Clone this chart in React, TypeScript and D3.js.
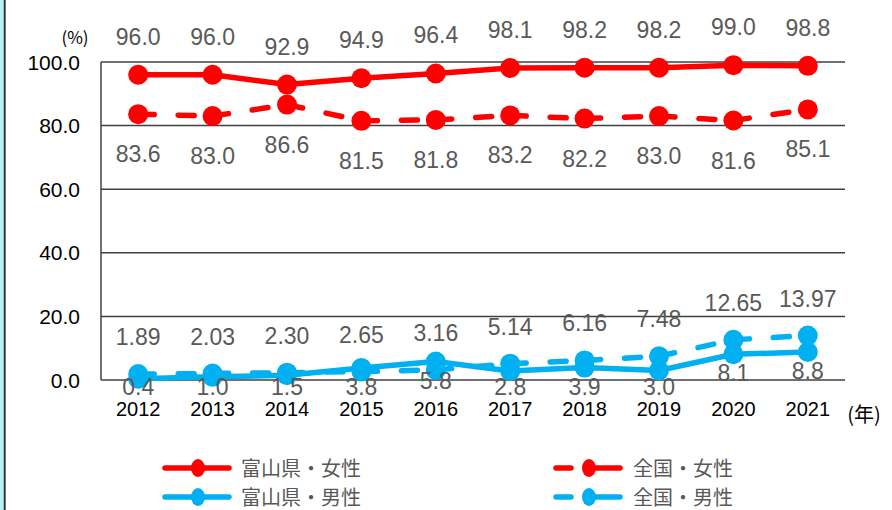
import React, { useRef, useEffect } from "react";
import * as d3 from "d3";

const years = ["2012", "2013", "2014", "2015", "2016", "2017", "2018", "2019", "2020", "2021"];
const toyamaFemale = [96.0, 96.0, 92.9, 94.9, 96.4, 98.1, 98.2, 98.2, 99.0, 98.8];
const nationFemale = [83.6, 83.0, 86.6, 81.5, 81.8, 83.2, 82.2, 83.0, 81.6, 85.1];
const toyamaMale = [0.4, 1.0, 1.5, 3.8, 5.8, 2.8, 3.9, 3.0, 8.1, 8.8];
const nationMale = [1.89, 2.03, 2.3, 2.65, 3.16, 5.14, 6.16, 7.48, 12.65, 13.97];
const yTicks = [0, 20, 40, 60, 80, 100];

const seriesNames = ["富山県・女性", "全国・女性", "富山県・男性", "全国・男性"];

const RED = "#ff0000";
const CYAN = "#00b0f0";
const FONT = "'Liberation Sans', Arial, 'Noto Sans CJK JP', sans-serif";
const JP_FONT = "'Noto Sans CJK JP', 'Liberation Sans', sans-serif";

const App = () => {
  const svgRef = useRef<SVGSVGElement>(null);

  useEffect(() => {
    const svg = d3.select(svgRef.current);
    svg.selectAll("*").remove();

    const left = 101;
    const right = 845;
    const top = 62;
    const bottom = 380;

    const x = d3.scalePoint().domain(years).range([left, right]).padding(0.5);
    const y = d3.scaleLinear().domain([0, 100]).range([bottom, top]);

    // frame border on the left
    svg.append("rect").attr("x", 0).attr("y", 0).attr("width", 3.7).attr("height", 510).attr("fill", "#b2f3f6");
    svg.append("line").attr("x1", 4.7).attr("x2", 4.7).attr("y1", 0).attr("y2", 510)
      .attr("stroke", "#333").attr("stroke-width", 2);

    // gridlines
    svg.append("g")
      .selectAll("line")
      .data(yTicks)
      .enter()
      .append("line")
      .attr("x1", left)
      .attr("x2", right)
      .attr("y1", (d) => y(d))
      .attr("y2", (d) => y(d))
      .attr("stroke", "#404040")
      .attr("stroke-width", 1.5);

    svg.append("line").attr("x1", left).attr("x2", left).attr("y1", top).attr("y2", bottom)
      .attr("stroke", "#404040").attr("stroke-width", 1.5);

    // y tick labels
    svg.append("g")
      .selectAll("text")
      .data(yTicks)
      .enter()
      .append("text")
      .attr("x", 80)
      .attr("y", (d) => y(d) + 7.5)
      .attr("text-anchor", "end")
      .style("font-family", FONT)
      .style("font-size", "21px")
      .attr("fill", "#000")
      .text((d) => d.toFixed(1));

    // x tick labels
    svg.append("g")
      .selectAll("text")
      .data(years)
      .enter()
      .append("text")
      .attr("x", (d) => x(d))
      .attr("y", 416)
      .attr("text-anchor", "middle")
      .style("font-family", FONT)
      .style("font-size", "20px")
      .attr("fill", "#000")
      .text((d) => d);

    svg.append("text").attr("x", 75).attr("y", 44).attr("text-anchor", "middle")
      .style("font-family", JP_FONT).style("font-size", "17px").attr("fill", "#000").text("(%)");
    svg.append("text").attr("x", 864).attr("y", 422).attr("text-anchor", "middle")
      .style("font-family", JP_FONT).style("font-size", "20px").attr("fill", "#000").text("(年)");

    const series = [
      { values: toyamaFemale, color: RED, dashed: false, labelY: (v) => y(v) - 30, fmt: 1 },
      { values: nationFemale, color: RED, dashed: true, labelY: (v) => y(v) + 48, fmt: 1 },
      { values: toyamaMale, color: CYAN, dashed: false, labelY: (v) => Math.min(y(v) + 27, 395), fmt: 1 },
      { values: nationMale, color: CYAN, dashed: true, labelY: (v) => y(v) - 29, fmt: 2 },
    ];

    // male series first so the female lines sit on top
    const order = [3, 2, 1, 0];
    order.forEach((i) => {
      const s = series[i];
      const pts = s.values.map((v, j) => [x(years[j]) as number, y(v)] as [number, number]);
      const g = svg.append("g");
      if (s.dashed) {
        // dash pattern restarts on every segment
        d3.pairs(pts).forEach(([a, b]) => {
          g.append("line")
            .attr("x1", a[0]).attr("y1", a[1]).attr("x2", b[0]).attr("y2", b[1])
            .attr("stroke", s.color)
            .attr("stroke-width", 5.5)
            .attr("stroke-linecap", "round")
            .attr("stroke-dasharray", "16 24");
        });
      } else {
        g.append("path")
          .attr("d", d3.line()(pts))
          .attr("fill", "none")
          .attr("stroke", s.color)
          .attr("stroke-width", 5.5)
          .attr("stroke-linejoin", "round")
          .attr("stroke-linecap", "round");
      }
      g.selectAll("circle")
        .data(pts)
        .enter()
        .append("circle")
        .attr("cx", (d) => d[0])
        .attr("cy", (d) => d[1])
        .attr("r", 10)
        .attr("fill", s.color);
    });

    // data labels
    series.forEach((s) => {
      svg.append("g")
        .selectAll("text")
        .data(s.values)
        .enter()
        .append("text")
        .attr("x", (d, j) => x(years[j]))
        .attr("y", (d) => s.labelY(d))
        .attr("text-anchor", "middle")
        .style("font-family", FONT)
        .style("font-size", "23px")
        .attr("fill", "#595959")
        .text((d) => d.toFixed(s.fmt));
    });

    // legend
    const legendItems = [
      { name: seriesNames[0], color: RED, dashed: false, lx: 162, ly: 468 },
      { name: seriesNames[1], color: RED, dashed: true, lx: 553, ly: 468 },
      { name: seriesNames[2], color: CYAN, dashed: false, lx: 162, ly: 497 },
      { name: seriesNames[3], color: CYAN, dashed: true, lx: 553, ly: 497 },
    ];
    legendItems.forEach((it) => {
      const g = svg.append("g");
      if (it.dashed) {
        g.append("line").attr("x1", it.lx + 3).attr("x2", it.lx + 18).attr("y1", it.ly).attr("y2", it.ly)
          .attr("stroke", it.color).attr("stroke-width", 5.5).attr("stroke-linecap", "round");
        g.append("line").attr("x1", it.lx + 38).attr("x2", it.lx + 67).attr("y1", it.ly).attr("y2", it.ly)
          .attr("stroke", it.color).attr("stroke-width", 5.5).attr("stroke-linecap", "round");
      } else {
        g.append("line").attr("x1", it.lx + 3).attr("x2", it.lx + 67).attr("y1", it.ly).attr("y2", it.ly)
          .attr("stroke", it.color).attr("stroke-width", 5.5).attr("stroke-linecap", "round");
      }
      g.append("ellipse").attr("cx", it.lx + 36).attr("cy", it.ly).attr("rx", 7).attr("ry", 9).attr("fill", it.color);
      g.append("text")
        .attr("x", it.lx + (it.dashed ? 80 : 79))
        .attr("y", it.ly + 7.5)
        .style("font-family", JP_FONT)
        .style("font-size", "20px")
        .attr("fill", "#595959")
        .text(it.name);
    });
  }, []);

  return (
    <svg
      ref={svgRef}
      width={892}
      height={510}
      style={{ position: "absolute", left: 0, top: 0, background: "#fff" }}
    ></svg>
  );
};

export default App;
